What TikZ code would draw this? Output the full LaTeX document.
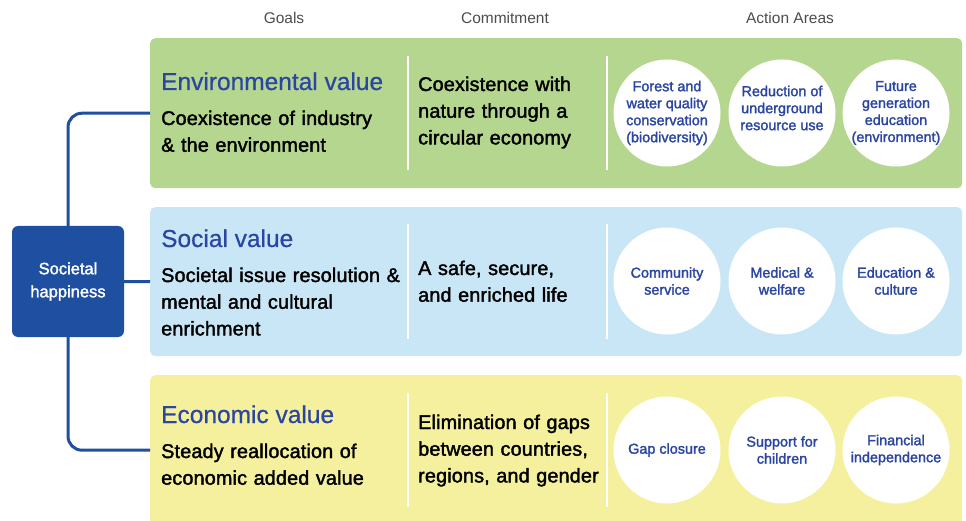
\documentclass[tikz,border=0pt]{standalone}
\usepackage{fontspec}
\setmainfont{Liberation Sans}
\newfontfamily\medf[FakeBold=1.8]{Liberation Sans}
\newfontfamily\bodyf[FakeBold=1.8,LetterSpace=0.8]{Liberation Sans}
\newfontfamily\ttlf[FakeBold=0.6]{Liberation Sans}
\definecolor{gfill}{HTML}{B5D68E}
\definecolor{bfill}{HTML}{C9E6F6}
\definecolor{yfill}{HTML}{F5F09D}
\definecolor{navy}{HTML}{1E4FA0}
\definecolor{ttlblue}{HTML}{2A45A2}
\definecolor{hdrgray}{HTML}{4D4D4D}
\begin{document}
\begin{tikzpicture}[x=1pt,y=-1pt,
  band/.style={rectangle, rounded corners=5pt, draw=none, minimum width=812pt, minimum height=150pt, anchor=north west, inner sep=0pt},
  divider/.style={draw=white, line width=1.5pt},
  actcircle/.style={circle, fill=white, draw=none, minimum size=107pt, inner sep=0pt},
  acttext/.style={align=center, text=ttlblue, inner sep=0pt, font=\medf\fontsize{14.4}{17}\selectfont},
  hdr/.style={text=hdrgray, font=\fontsize{15.5}{18}\selectfont, anchor=base, inner sep=0pt},
  ttl/.style={text=ttlblue, font=\ttlf\fontsize{24.5}{28}\selectfont, anchor=base west, inner sep=0pt},
  body/.style={text width=260pt, align=left, anchor=base west, inner sep=0pt, font=\bodyf\fontsize{19.8}{26.7}\selectfont},
  conn/.style={draw=navy, line width=3pt, rounded corners=14pt}
]
\useasboundingbox (0,0) rectangle (966,521);

% headers
\node[hdr] (h1) at (284,24) {Goals};
\node[hdr] (h2) at (505,24) {Commitment};
\node[hdr] (h3) at (790,24) {Action Areas};

% bands
\node[band, fill=gfill] (gband) at (150,38) {};
\node[band, fill=bfill, minimum height=149pt] (bband) at (150,207) {};
\node[band, fill=yfill] (yband) at (150,375) {};

% dividers
\coordinate (gd1a) at (408,56); \coordinate (gd1b) at (408,170);
\coordinate (gd2a) at (607,56); \coordinate (gd2b) at (607,170);
\coordinate (bd1a) at (408,224); \coordinate (bd1b) at (408,339);
\coordinate (bd2a) at (607,224); \coordinate (bd2b) at (607,339);
\coordinate (yd1a) at (408,393); \coordinate (yd1b) at (408,507);
\coordinate (yd2a) at (607,393); \coordinate (yd2b) at (607,507);
\draw[divider] (gd1a) -- (gd1b); \draw[divider] (gd2a) -- (gd2b);
\draw[divider] (bd1a) -- (bd1b); \draw[divider] (bd2a) -- (bd2b);
\draw[divider] (yd1a) -- (yd1b); \draw[divider] (yd2a) -- (yd2b);

% societal happiness
\node[rectangle, rounded corners=6pt, fill=navy, minimum width=112pt, minimum height=111pt, inner sep=0pt, text=white, align=center, font=\medf\fontsize{16.5}{23}\selectfont] (hap) at (68,281.5) {Societal\\happiness};
\draw[conn] (hap.north) |- (gband.west);
\draw[conn] (hap.east) -- (bband.west);
\draw[conn] (hap.south) |- (yband.west);

% green row
\node[ttl] (gt) at (161,90) {Environmental value};
\node[body] (gg) at (161,125) {Coexistence of industry\\\& the environment};
\node[body] (gc) at (418,91) {Coexistence with\\nature through a\\circular economy};
\node[actcircle] (gc1) at (667,113) {};
\node[actcircle] (gc2) at (782,113) {};
\node[actcircle] (gc3) at (896,113) {};
\node[acttext] (gx1) at (gc1.center) {Forest and\\water quality\\conservation\\(biodiversity)};
\node[acttext] (gx2) at (782,108) {Reduction of\\underground\\resource use};
\node[acttext] (gx3) at (gc3.center) {Future\\generation\\education\\(environment)};

% blue row
\node[ttl] (bt) at (161,247) {Social value};
\node[body] (bg) at (161,282) {Societal issue resolution \&\\mental and cultural\\enrichment};
\node[body] (bc) at (418,275) {A safe, secure,\\and enriched life};
\node[actcircle] (bc1) at (667,281) {};
\node[actcircle] (bc2) at (782,281) {};
\node[actcircle] (bc3) at (896,281) {};
\node[acttext] (bx1) at (bc1.center) {Community\\service};
\node[acttext] (bx2) at (bc2.center) {Medical \&\\welfare};
\node[acttext] (bx3) at (bc3.center) {Education \&\\culture};

% yellow row
\node[ttl] (yt) at (161,423) {Economic value};
\node[body] (yg) at (161,458) {Steady reallocation of\\economic added value};
\node[body] (yc) at (418,429) {Elimination of gaps\\between countries,\\regions, and gender};
\node[actcircle] (yc1) at (667,450) {};
\node[actcircle] (yc2) at (782,450) {};
\node[actcircle] (yc3) at (896,450) {};
\node[acttext] (yx1) at (yc1.center) {Gap closure};
\node[acttext] (yx2) at (yc2.center) {Support for\\children};
\node[acttext] (yx3) at (yc3.center) {Financial\\independence};
\end{tikzpicture}
\end{document}
